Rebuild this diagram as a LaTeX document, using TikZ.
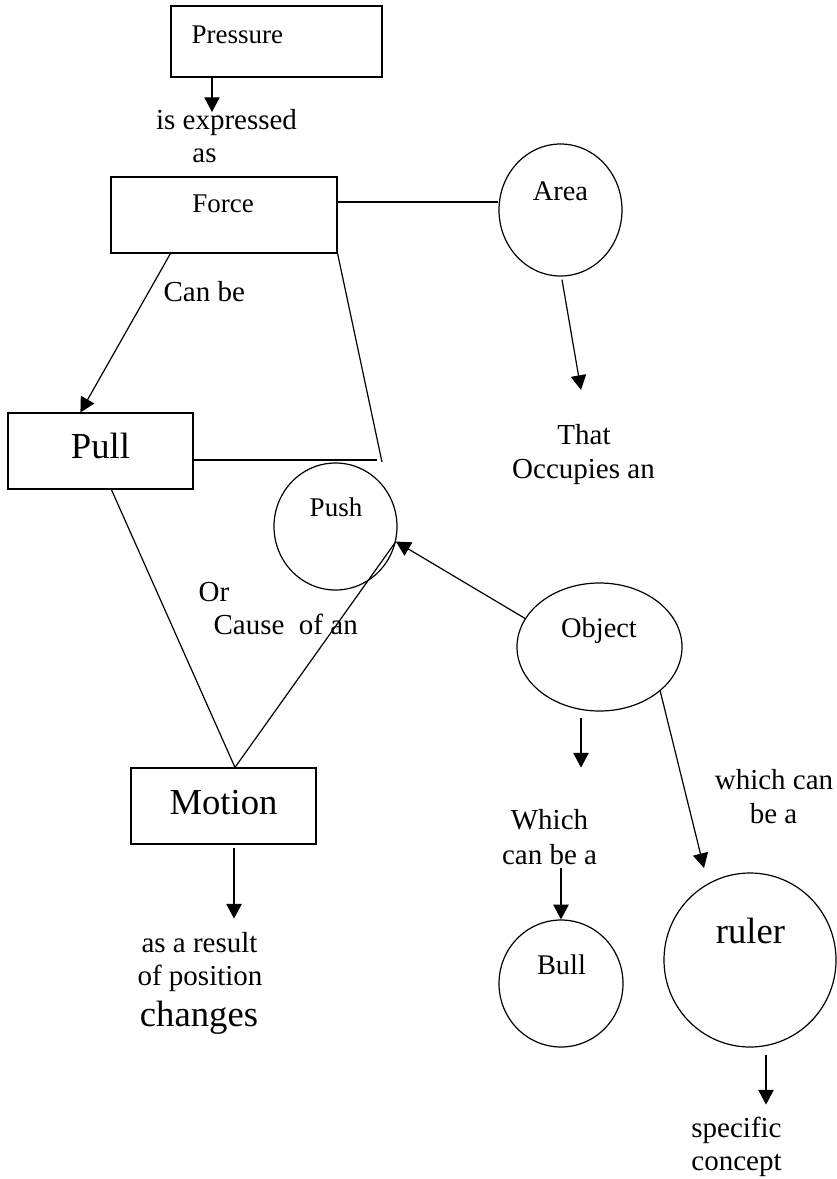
\documentclass[tikz,border=0pt]{standalone}
\usepackage{fontspec}
\setmainfont{Liberation Serif}
\usetikzlibrary{arrows.meta,shapes.geometric}
\begin{document}
\begin{tikzpicture}[x=0.75pt,y=-0.75pt,
  line width=0.9pt,
  box/.style={draw, rectangle, inner sep=0pt},
  oval/.style={draw, ellipse, inner sep=0pt},
  arr/.style={-{Triangle[length=11pt,width=11.5pt]}},
  sm/.style={font=\fontsize{20.25}{24}\selectfont, inner sep=0pt, anchor=base},
  md/.style={font=\fontsize{21.3}{25}\selectfont, inner sep=0pt, anchor=base},
  lbl/.style={font=\fontsize{21.75}{26}\selectfont, inner sep=0pt, anchor=base},
  big/.style={font=\fontsize{27.5}{33}\selectfont, inner sep=0pt, anchor=base}]
\useasboundingbox (0,0) rectangle (837,1179);

% ---- concept shapes ----
\node[box, minimum width=211*0.75pt, minimum height=71*0.75pt] (pressure) at (276.5,41.5) {};
\node[box, minimum width=226*0.75pt, minimum height=76*0.75pt] (force) at (224,215) {};
\node[box, minimum width=185*0.75pt, minimum height=76*0.75pt] (pull) at (100.5,451) {};
\node[box, minimum width=185*0.75pt, minimum height=76*0.75pt] (motion) at (223.5,806) {};

\node[oval, minimum width=123*0.75pt, minimum height=132*0.75pt] (area) at (560.5,210) {};
\node[oval, minimum width=123*0.75pt, minimum height=127*0.75pt] (push) at (335.5,526.5) {};
\node[oval, minimum width=165*0.75pt, minimum height=128*0.75pt] (object) at (599.5,647) {};
\node[oval, minimum width=124*0.75pt, minimum height=127*0.75pt] (bull) at (561,983.5) {};
\node[oval, minimum width=172*0.75pt, minimum height=174*0.75pt] (ruler) at (750,960) {};

% ---- concept texts ----
\node[sm, anchor=base west] (pressure-t) at (191,43) {Pressure};
\node[sm] (force-t) at (223,212) {Force};
\node[md] (area-t) at (560.5,200) {Area};
\node[big] (pull-t) at (100.5,458) {Pull};
\node[sm] (push-t) at (336,516) {Push};
\node[md] (object-t) at (599,637) {Object};
\node[big] (motion-t) at (223.5,814) {Motion};
\node[md] (bull-t) at (561.5,974) {Bull};
\node[big] (ruler-t) at (750.5,943) {ruler};

% ---- linking labels ----
\node[lbl] (l1a) at (226.5,129) {is expressed};
\node[lbl] (l1b) at (204.5,162) {as};
\node[lbl, anchor=base west] (l2) at (163,301) {Can be};
\node[lbl] (l3a) at (584,444) {That};
\node[lbl] (l3b) at (583.5,478) {Occupies an};
\node[lbl, anchor=base west] (l4a) at (198,601) {Or};
\node[lbl, anchor=base west] (l4b) at (213,634) {Cause\ \ of an};
\node[lbl] (l5a) at (774,789) {which can};
\node[lbl] (l5b) at (773.5,823) {be a};
\node[lbl] (l6a) at (549.5,829) {Which};
\node[lbl] (l6b) at (549.5,864) {can be a};
\node[lbl] (l7a) at (199.5,952) {as a result};
\node[lbl] (l7b) at (200,985) {of position};
\node[big] (l7c) at (199,1026) {changes};
\node[lbl] (l8a) at (736.5,1137) {specific};
\node[lbl] (l8b) at (736.5,1170) {concept};

% ---- free connector ends ----
\coordinate (t-press) at (212,112);
\coordinate (t-area) at (581,390);
\coordinate (t-ruler) at (704,868);
\coordinate (corner) at (382,462);

% ---- connectors ----
\draw[arr] (t-press |- pressure.south) -- (t-press);
\draw (force.east) ++(0,-13) coordinate (fe) -- (fe -| area.west);
\draw[arr] (force.south west) ++(60,0) -- ([xshift=73*0.75pt]pull.north west);
\draw (force.south east) -- (corner);
\draw (pull.east) ++(0,9) coordinate (pe) -- (377,460);
\draw (pull.south west) ++(104,0) -- ([xshift=11.5*0.75pt]motion.north);
\draw ([xshift=11.5*0.75pt]motion.north) -- (push.-14);
\draw[arr] (object.159) -- (push.-14);
\draw[arr] (area.south) ++(1.5,3) -- (t-area);
\draw[arr] (object.south) ++(-18.5,6) -- ++(0,50);
\draw[arr] (object.-36) -- (t-ruler);
\draw[arr] (bull.north) ++(0,-51) -- (bull.north);
\draw[arr] (motion.south) ++(10.5,3) -- ++(0,71);
\draw[arr] (ruler.south) ++(16,7) -- ++(0,50);
\end{tikzpicture}
\end{document}
